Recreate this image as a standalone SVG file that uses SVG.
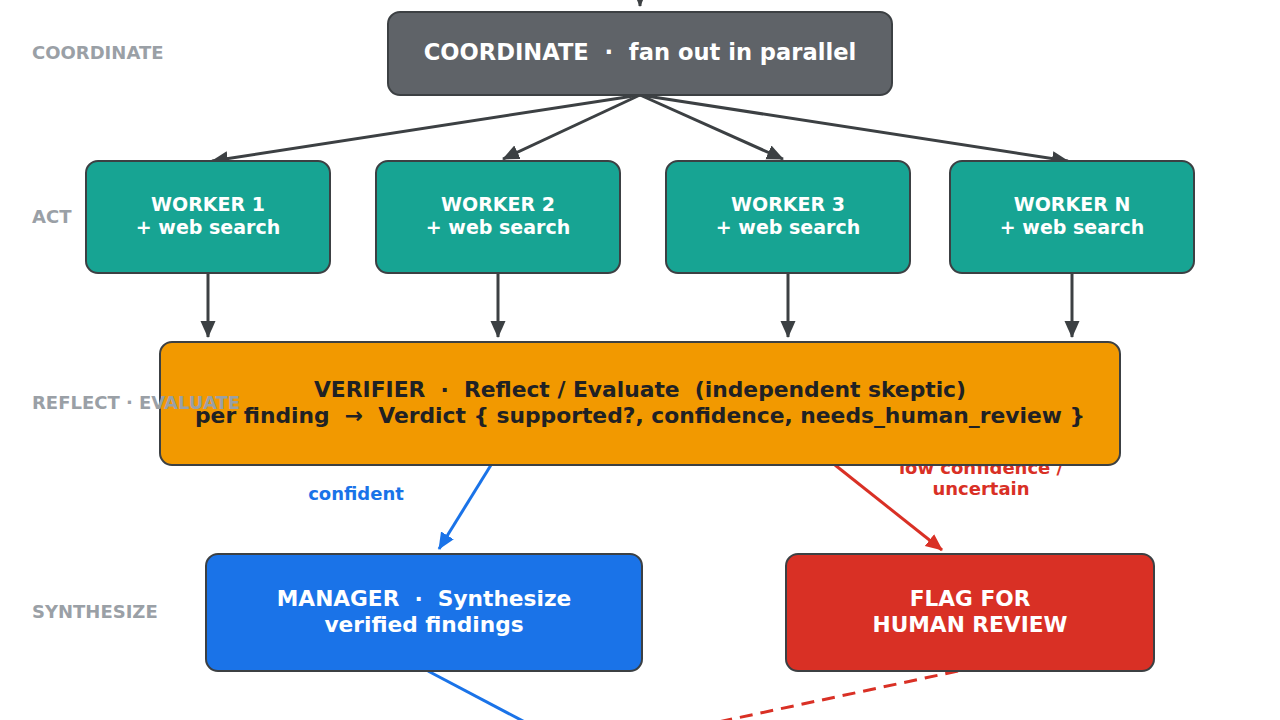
<svg xmlns="http://www.w3.org/2000/svg" width="1280" height="720" viewBox="0 0 1280 720" xml:space="preserve">
<defs>
<style>
.lane{font-family:"DejaVu Sans",sans-serif;font-weight:bold;font-size:18px;fill:#9aa0a6}
.t{font-family:"DejaVu Sans",sans-serif;font-weight:bold;text-anchor:middle;white-space:pre}
.box{stroke:#3c4043;stroke-width:2}
.c{fill:none;stroke-width:3}
</style>
<marker id="ah" markerUnits="userSpaceOnUse" markerWidth="17" markerHeight="17" viewBox="0 0 17 17" refX="16" refY="8.5" orient="auto"><path d="M0,1 L17,8.5 L0,16 Z" fill="#3c4043"/></marker>
<marker id="ahb" markerUnits="userSpaceOnUse" markerWidth="17" markerHeight="17" viewBox="0 0 17 17" refX="16" refY="8.5" orient="auto"><path d="M0,1 L17,8.5 L0,16 Z" fill="#1a73e8"/></marker>
<marker id="ahr" markerUnits="userSpaceOnUse" markerWidth="17" markerHeight="17" viewBox="0 0 17 17" refX="16" refY="8.5" orient="auto"><path d="M0,1 L17,8.5 L0,16 Z" fill="#d93025"/></marker>
</defs>
<rect width="1280" height="720" fill="#ffffff"/>
<g id="connectors">
<line class="c" x1="640" y1="-20" x2="640" y2="6" stroke="#3c4043" marker-end="url(#ah)"/>
<line class="c" x1="640" y1="95" x2="212" y2="161" stroke="#3c4043" marker-end="url(#ah)"/>
<line class="c" x1="640" y1="95" x2="503" y2="159" stroke="#3c4043" marker-end="url(#ah)"/>
<line class="c" x1="640" y1="95" x2="783" y2="159" stroke="#3c4043" marker-end="url(#ah)"/>
<line class="c" x1="640" y1="95" x2="1068" y2="161" stroke="#3c4043" marker-end="url(#ah)"/>
<line class="c" x1="208" y1="273" x2="208" y2="337" stroke="#3c4043" marker-end="url(#ah)"/>
<line class="c" x1="498" y1="273" x2="498" y2="337" stroke="#3c4043" marker-end="url(#ah)"/>
<line class="c" x1="788" y1="273" x2="788" y2="337" stroke="#3c4043" marker-end="url(#ah)"/>
<line class="c" x1="1072" y1="273" x2="1072" y2="337" stroke="#3c4043" marker-end="url(#ah)"/>
<line class="c" x1="491" y1="465" x2="439" y2="549" stroke="#1a73e8" marker-end="url(#ahb)"/>
<line class="c" x1="835" y1="465" x2="942" y2="550" stroke="#d93025" marker-end="url(#ahr)"/>
<line class="c" x1="428" y1="671" x2="540" y2="730" stroke="#1a73e8"/>
<line class="c" x1="958" y1="671" x2="690" y2="728" stroke="#d93025" stroke-dasharray="13,8"/>
<text class="t" x="356" y="500" font-size="18" fill="#1a73e8">confident</text>
<text class="t" x="981" y="474" font-size="18" fill="#d93025">low confidence /</text>
<text class="t" x="981" y="495" font-size="18" fill="#d93025">uncertain</text>
</g>
<g id="coordinate">
<rect class="box" x="388" y="12" width="504" height="83" rx="12" fill="#5f6368"/>
<text class="t" x="640" y="60" font-size="22.6" fill="#ffffff">COORDINATE  ·  fan out in parallel</text>
</g>
<g id="worker1">
<rect class="box" x="86" y="161" width="244" height="112" rx="12" fill="#17a493"/>
<text class="t" x="208" y="211" font-size="19" fill="#ffffff">WORKER 1</text>
<text class="t" x="208" y="234" font-size="19" fill="#ffffff">+ web search</text>
</g>
<g id="worker2">
<rect class="box" x="376" y="161" width="244" height="112" rx="12" fill="#17a493"/>
<text class="t" x="498" y="211" font-size="19" fill="#ffffff">WORKER 2</text>
<text class="t" x="498" y="234" font-size="19" fill="#ffffff">+ web search</text>
</g>
<g id="worker3">
<rect class="box" x="666" y="161" width="244" height="112" rx="12" fill="#17a493"/>
<text class="t" x="788" y="211" font-size="19" fill="#ffffff">WORKER 3</text>
<text class="t" x="788" y="234" font-size="19" fill="#ffffff">+ web search</text>
</g>
<g id="workerN">
<rect class="box" x="950" y="161" width="244" height="112" rx="12" fill="#17a493"/>
<text class="t" x="1072" y="211" font-size="19" fill="#ffffff">WORKER N</text>
<text class="t" x="1072" y="234" font-size="19" fill="#ffffff">+ web search</text>
</g>
<g id="verifier">
<rect class="box" x="160" y="342" width="960" height="123" rx="12" fill="#f29900"/>
<text class="t" x="640" y="397" font-size="21.8" fill="#202124">VERIFIER  ·  Reflect / Evaluate  (independent skeptic)</text>
<text class="t" x="640" y="423" font-size="21.8" fill="#202124">per finding  →  Verdict { supported?, confidence, needs_human_review }</text>
</g>
<g id="manager">
<rect class="box" x="206" y="554" width="436" height="117" rx="12" fill="#1a73e8"/>
<text class="t" x="424" y="606" font-size="21.7" fill="#ffffff">MANAGER  ·  Synthesize</text>
<text class="t" x="424" y="632" font-size="21.7" fill="#ffffff">verified findings</text>
</g>
<g id="flag">
<rect class="box" x="786" y="554" width="368" height="117" rx="12" fill="#d93025"/>
<text class="t" x="970" y="606" font-size="21.7" fill="#ffffff">FLAG FOR</text>
<text class="t" x="970" y="632" font-size="21.7" fill="#ffffff">HUMAN REVIEW</text>
</g>
<g id="lanes">
<text class="lane" x="32" y="59">COORDINATE</text>
<text class="lane" x="32" y="223">ACT</text>
<text class="lane" x="32" y="409">REFLECT · EVALUATE</text>
<text class="lane" x="32" y="618">SYNTHESIZE</text>
</g>
</svg>
